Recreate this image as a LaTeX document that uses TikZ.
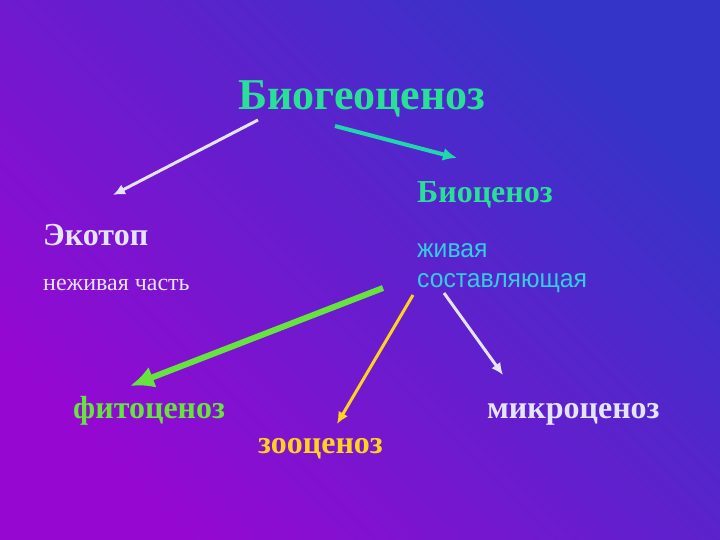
\documentclass[tikz,border=0pt]{standalone}
\usepackage{fontspec}
\setmainfont{Liberation Serif}
\newfontfamily\narrowsans[FakeStretch=0.95]{Liberation Sans}
\usetikzlibrary{arrows.meta}
\definecolor{bgblue}{RGB}{52,52,200}
\definecolor{bgpurple}{RGB}{150,8,210}
\definecolor{titlegreen}{RGB}{40,225,150}
\definecolor{tealarrow}{RGB}{30,215,170}
\definecolor{palewhite}{RGB}{228,228,255}
\definecolor{skycyan}{RGB}{50,205,225}
\definecolor{limegreen}{RGB}{100,228,60}
\definecolor{goldyellow}{RGB}{255,210,30}
\begin{document}
\begin{tikzpicture}[x=1pt,y=-1pt,
    bigword/.style={anchor=base west,inner sep=0pt,font=\fontsize{32}{36}\selectfont\bfseries},
    smallword/.style={anchor=base west,inner sep=0pt,font=\fontsize{24}{28}\selectfont},
    thinarrow/.style={line width=3pt,-{Latex[length=12pt,width=11pt]}}]
    % background
    \shade[bottom color=bgpurple, top color=bgblue, shading angle=-45] (0,0) rectangle (720,540);
    \useasboundingbox (0,0) rectangle (720,540);
    % texts
    \node[anchor=base west,inner sep=0pt,text=titlegreen,font=\fontsize{44}{48}\selectfont\bfseries] (bgc) at (238,110) {Биогеоценоз};
    \node[bigword,text=titlegreen] (bc) at (417,203) {Биоценоз};
    \node[bigword,text=palewhite] (ekt) at (43,245) {Экотоп};
    \node[smallword,text=palewhite] (nonliv) at (43,290) {неживая часть};
    \node[smallword,text=skycyan,font=\fontsize{26}{30}\selectfont\narrowsans] (liv1) at (417,258) {живая};
    \node[smallword,text=skycyan,font=\fontsize{26}{30}\selectfont\narrowsans] (liv2) at (417,287) {составляющая};
    \node[bigword,text=limegreen] (fito) at (73,418) {фитоценоз};
    \node[bigword,text=goldyellow] (zoo) at (258,453) {зооценоз};
    \node[bigword,text=palewhite] (micro) at (487,418) {микроценоз};
    % arrow ends
    \coordinate (a1) at (258,120);
    \coordinate (b1) at (113,195);
    \coordinate (a2) at (335,126);
    \coordinate (b2) at (457,158);
    \coordinate (a3) at (383,288);
    \coordinate (b3) at (130,386);
    \coordinate (a4) at (413,295);
    \coordinate (b4) at (337,424);
    \coordinate (a5) at (444,293);
    \coordinate (b5) at (503,375);
    % arrows
    \draw[thinarrow,palewhite] (a1) -- (b1);
    \draw[tealarrow,line width=4pt,-{Latex[length=14pt,width=13pt]}] (a2) -- (b2);
    \draw[limegreen,line width=6pt,-{Latex[length=24pt,width=22pt]}] (a3) -- (b3);
    \draw[thinarrow,goldyellow] (a4) -- (b4);
    \draw[thinarrow,palewhite] (a5) -- (b5);
\end{tikzpicture}
\end{document}
